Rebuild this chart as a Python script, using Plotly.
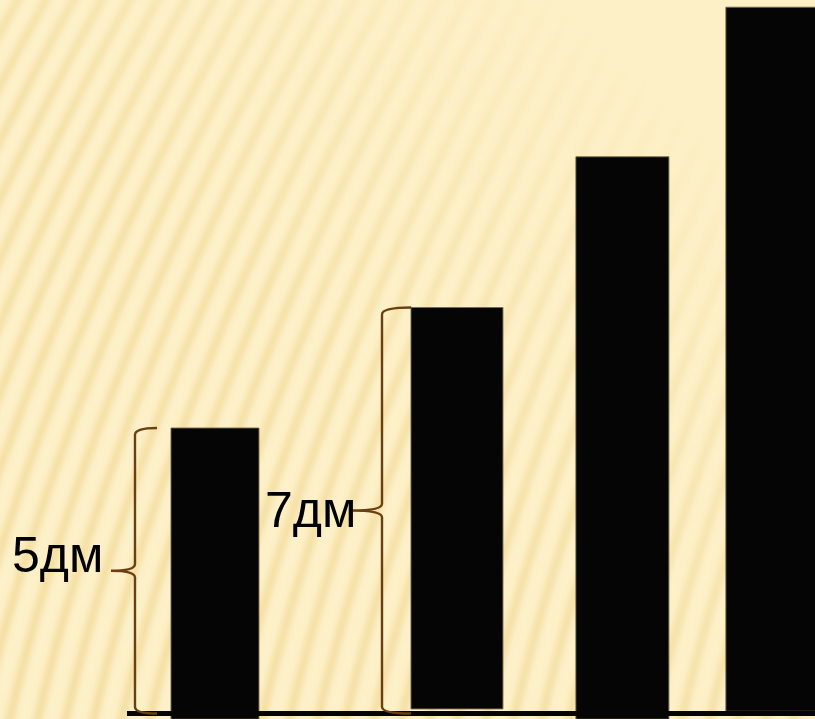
import base64
import plotly.graph_objects as go

# ---- data (in decimetres) ----
bar_ids = ["1", "2", "3", "4"]
bar_tops = [5.0, 7.11, 9.75, 12.37]
bar_bases = [-0.1, 0.08, -0.1, 0.04]
bar_positions = [3.765, 8.003, 10.90, 13.50]
bar_widths = [1.541, 1.611, 1.629, 1.576]
brace_labels = ["5дм", "7дм"]

W, H = 815, 719
X_RANGE = [0, 14.273]
Y_RANGE = [-0.0963, 12.496]

# ---- striped background as an SVG image ----
paths = []
for x0 in range(-330, 840, 28):
    paths.append(
        f'<path d="M{x0},735 Q{x0 + 80},380 {x0 + 300},-15" stroke="#EFD48F" '
        f'stroke-width="7" fill="none" opacity="0.8"/>'
        f'<path d="M{x0 + 12},735 Q{x0 + 92},380 {x0 + 312},-15" stroke="#FFF6DA" '
        f'stroke-width="5" fill="none" opacity="0.35"/>'
    )
svg = f'''<svg xmlns="http://www.w3.org/2000/svg" width="{W}" height="{H}" viewBox="0 0 {W} {H}">
<defs>
<linearGradient id="fade" x1="0" y1="1" x2="1" y2="0">
<stop offset="0" stop-color="#fff" stop-opacity="1"/>
<stop offset="0.45" stop-color="#fff" stop-opacity="0.85"/>
<stop offset="0.66" stop-color="#fff" stop-opacity="0.45"/>
<stop offset="0.85" stop-color="#fff" stop-opacity="0"/>
</linearGradient>
<mask id="m"><rect x="0" y="0" width="{W}" height="{H}" fill="url(#fade)"/></mask>
<filter id="b" x="-10%" y="-10%" width="120%" height="120%"><feGaussianBlur stdDeviation="3"/></filter>
</defs>
<rect x="0" y="0" width="{W}" height="{H}" fill="#FDF0C6"/>
<g mask="url(#m)"><g filter="url(#b)">{''.join(paths)}</g></g>
</svg>'''
bg_src = "data:image/svg+xml;base64," + base64.b64encode(svg.encode("utf-8")).decode("ascii")

fig = go.Figure()
fig.add_trace(go.Bar(
    x=bar_positions,
    y=[t - b for t, b in zip(bar_tops, bar_bases)],
    base=bar_bases,
    width=bar_widths,
    marker=dict(color="#050505", line=dict(color="rgba(120,105,75,0.9)", width=1)),
    hoverinfo="skip",
))


def brace_path(x_tip, x_spine, x_hook, y0, y1, r):
    ym = (y0 + y1) / 2
    return (f"M {x_hook},{y1} Q {x_spine},{y1} {x_spine},{y1 - r} "
            f"L {x_spine},{ym + r} Q {x_spine},{ym} {x_tip},{ym} "
            f"Q {x_spine},{ym} {x_spine},{ym - r} "
            f"L {x_spine},{y0 + r} Q {x_spine},{y0} {x_hook},{y0}")


shapes = [
    dict(type="line", xref="x", yref="y", x0=2.224, x1=14.5, y0=0, y1=0,
         line=dict(color="#050505", width=5)),
    dict(type="path", xref="x", yref="y",
         path=brace_path(1.944, 2.364, 2.75, 0.0, bar_tops[0], 0.12),
         line=dict(color="#6A3F12", width=2.4)),
    dict(type="path", xref="x", yref="y",
         path=brace_path(6.165, 6.69, 7.20, 0.0, bar_tops[1], 0.12),
         line=dict(color="#6A3F12", width=2.4)),
]

annotations = [
    dict(x=0.17, y=2.776, xref="x", yref="y", text=brace_labels[0], showarrow=False,
         xanchor="left", yanchor="middle",
         font=dict(family="Liberation Sans, Arial, sans-serif", size=50, color="#000")),
    dict(x=4.60, y=3.56, xref="x", yref="y", text=brace_labels[1], showarrow=False,
         xanchor="left", yanchor="middle",
         font=dict(family="Liberation Sans, Arial, sans-serif", size=50, color="#000")),
]

fig.update_layout(
    width=W, height=H, autosize=False,
    margin=dict(l=0, r=0, t=0, b=0, pad=0),
    paper_bgcolor="#FDF0C6",
    plot_bgcolor="rgba(0,0,0,0)",
    showlegend=False,
    xaxis=dict(range=X_RANGE, visible=False, fixedrange=True),
    yaxis=dict(range=Y_RANGE, visible=False, fixedrange=True),
    images=[dict(source=bg_src, xref="paper", yref="paper", x=0, y=1,
                 sizex=1, sizey=1, sizing="stretch", xanchor="left", yanchor="top",
                 layer="below")],
    shapes=shapes,
    annotations=annotations,
)

fig.write_html(
    "out.html",
    config={"displayModeBar": False},
    post_script="document.body.style.margin='0';document.body.style.overflow='hidden';",
)
